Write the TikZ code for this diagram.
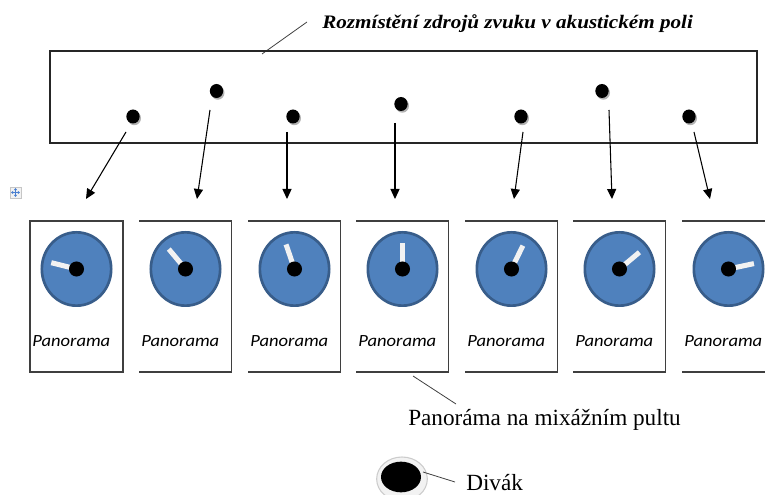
\documentclass[tikz,border=0pt]{standalone}
\usepackage{graphicx}
\usepackage{fontspec}
\setmainfont{Liberation Serif}
\newfontfamily\calib{Carlito}
\usetikzlibrary{arrows.meta,shapes.geometric,shadows}
\definecolor{dialblue}{HTML}{4F81BD}
\definecolor{dialedge}{HTML}{385D8A}
\definecolor{needlecol}{HTML}{F2F2F2}
\definecolor{boxline}{HTML}{3F3F3F}
\definecolor{iconblue}{HTML}{4A7FD0}
\begin{document}
\begin{tikzpicture}[x=0.75pt,y=-0.75pt,
  srcdot/.style={ellipse,fill=black,inner sep=0pt,minimum width=10pt,minimum height=10.5pt,
    drop shadow={shadow xshift=1pt,shadow yshift=-1.3pt,fill=gray,opacity=0.6}},
  feed/.style={line width=0.8pt,-{Triangle[length=7.5pt,width=6.8pt]}},
  boxedge/.style={draw=boxline,line width=0.9pt},
  dialbody/.style={ellipse,fill=dialblue,draw=dialedge,line width=2pt,minimum width=52pt,minimum height=55pt,inner sep=0pt},
  hub/.style={circle,fill=black,inner sep=0pt,minimum size=11.3pt},
  needle/.style={line width=3.8pt,draw=needlecol},
  pantext/.style={anchor=base west,inner sep=0pt,font=\calib\itshape\fontsize{12.8}{15}\selectfont},
  leader/.style={draw=black!75,line width=0.6pt},
  plaintext/.style={anchor=base west,inner sep=0pt,font=\fontsize{17.4}{20}\selectfont},
  halo/.style={ellipse,fill=gray!10,draw=gray!40,line width=0.8pt,minimum width=38pt,minimum height=33pt,inner sep=0pt},
  viewerdot/.style={ellipse,fill=black,inner sep=0pt,minimum width=30pt,minimum height=23pt}
]
\useasboundingbox (0,0) rectangle (765,495);

% title and field
\node[anchor=base west,inner sep=0pt] (title) at (322,29)
  {\fontsize{14.3}{16}\selectfont\bfseries\itshape\resizebox{278pt}{\height}{Rozmístění zdrojů zvuku v akustickém poli}};
\coordinate (tl1) at (262,54);
\coordinate (tl2) at (307,22);
\draw[leader] (tl1) -- (tl2);
\draw[line width=0.9pt,draw=black!85] (50,51) rectangle (757,143);

% sources
\node[srcdot] (s1) at (133,116.5) {};
\node[srcdot] (s2) at (216.5,91) {};
\node[srcdot] (s3) at (293,116.5) {};
\node[srcdot] (s4) at (401,104) {};
\node[srcdot] (s5) at (521,116.5) {};
\node[srcdot] (s6) at (602,91) {};
\node[srcdot] (s7) at (689,116.5) {};

% feeds
\coordinate (a1) at (126,132); \coordinate (b1) at (86,199);
\coordinate (a2) at (210,110); \coordinate (b2) at (197,199);
\coordinate (a3) at (287,132); \coordinate (b3) at (287,199);
\coordinate (a4) at (395,123); \coordinate (b4) at (395,199);
\coordinate (a5) at (523,132); \coordinate (b5) at (514,199);
\coordinate (a6) at (609,110); \coordinate (b6) at (612,199);
\coordinate (a7) at (694,132); \coordinate (b7) at (710,199);
\foreach \i in {1,...,7}{\draw[feed] (a\i) -- (b\i);}

% panorama boxes
\draw[boxedge] (30,221) rectangle (123,372);
\foreach \L in {139,248,356,465,573}{
  \draw[boxedge] (\L,221) -- ({\L+92.5},221) -- ({\L+92.5},372) -- (\L,372);
}
\draw[boxedge] (682,221) -- (765,221);
\draw[boxedge] (682,372) -- (765,372);

\foreach \i/\L/\ang in {1/30/166,2/139/130,3/248/109,4/356/90,5/465/64,6/573/40,7/682/12}{
  \node[dialbody] (d\i) at ({\L+46.5},269) {};
  \draw[needle] (d\i.center) -- ++(-\ang:26);
  \node[hub] (h\i) at (d\i.center) {};
  \node[pantext] (p\i) at ({\L+2},347) {\resizebox{58.5pt}{\height}{Panorama}};
}

% mixer label
\coordinate (ml1) at (413,376);
\coordinate (ml2) at (456,404);
\draw[leader] (ml1) -- (ml2);
\node[plaintext] (mix) at (408,426) {Panoráma na mixážním pultu};

% viewer
\node[halo] (vh) at (402,479) {};
\node[viewerdot] (v) at (401,477) {};
\coordinate (vl1) at (423,472);
\coordinate (vl2) at (455,482);
\draw[leader] (vl1) -- (vl2);
\node[plaintext] (div) at (466,491) {Divák};

% table move handle icon
\node[draw=gray!45,fill=gray!10,minimum size=8pt,inner sep=0pt] (icon) at (15.5,192.5) {};
\draw[iconblue,line width=0.7pt,{Triangle[length=1.6pt,width=2.2pt]}-{Triangle[length=1.6pt,width=2.2pt]}] (11,192.5) -- (20,192.5);
\draw[iconblue,line width=0.7pt,{Triangle[length=1.6pt,width=2.2pt]}-{Triangle[length=1.6pt,width=2.2pt]}] (15.5,188) -- (15.5,197);
\end{tikzpicture}
\end{document}
